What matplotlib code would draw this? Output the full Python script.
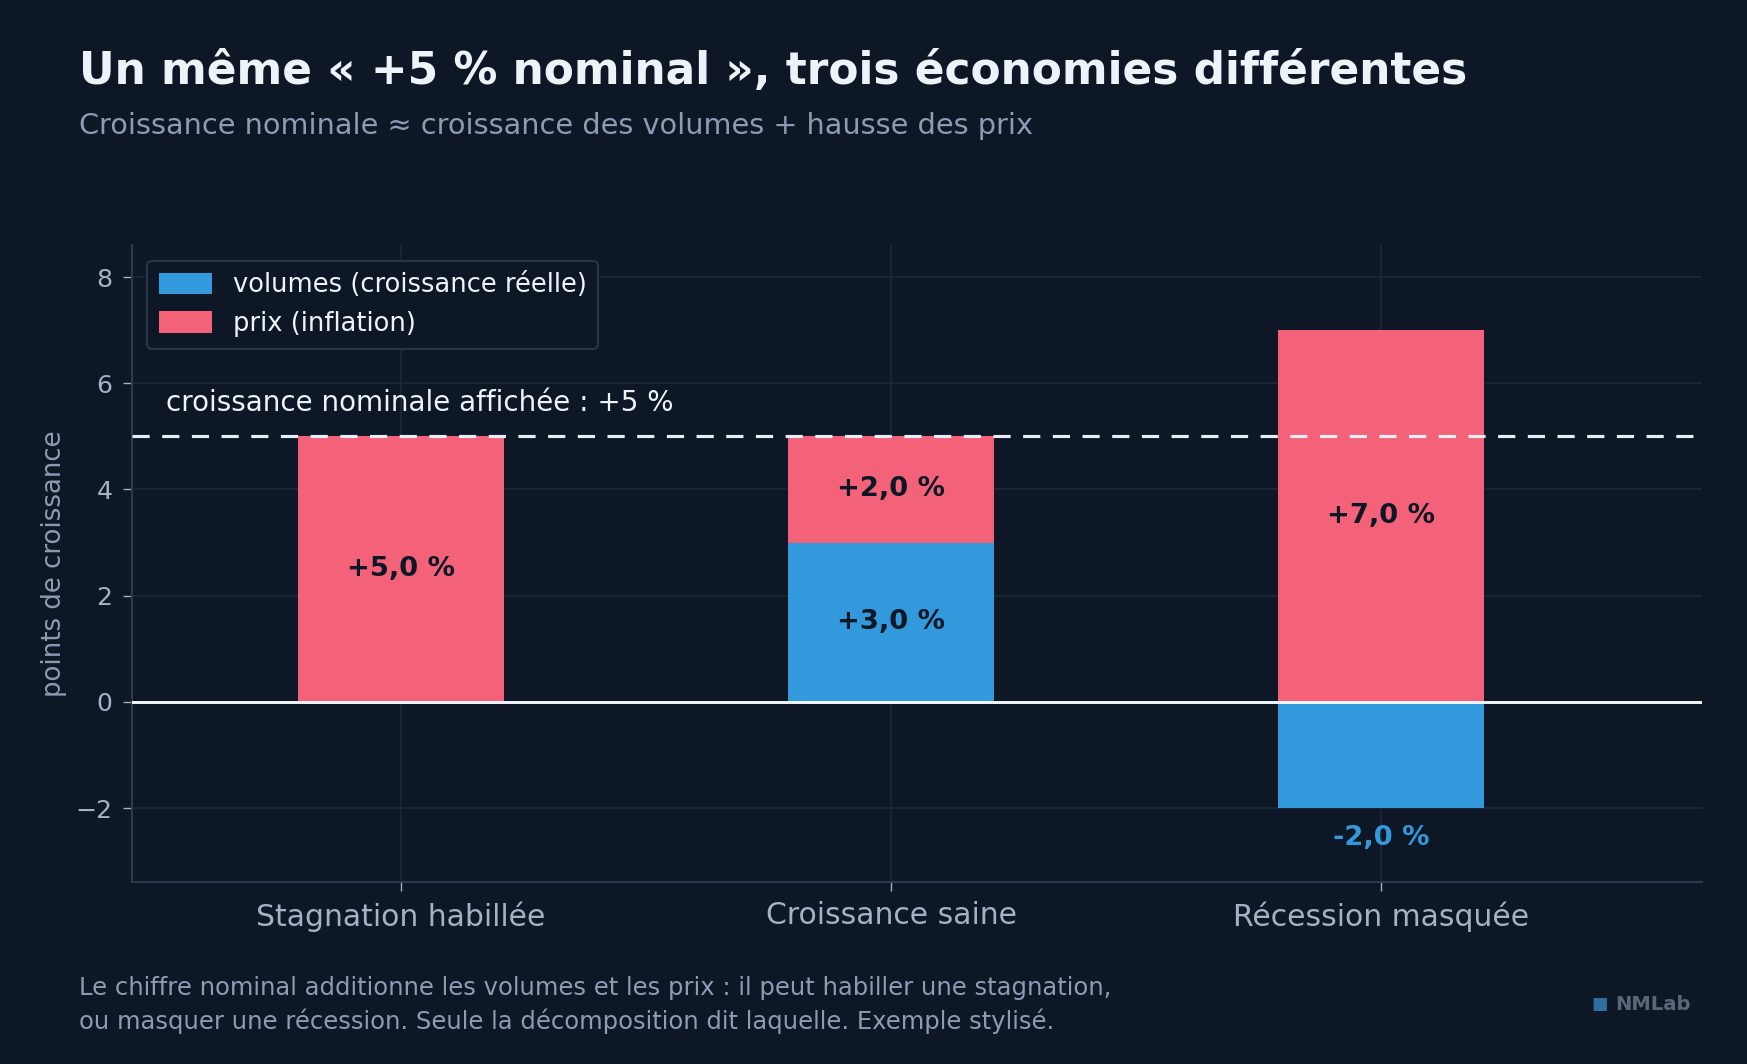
import matplotlib
matplotlib.use("Agg")
import matplotlib.pyplot as plt
import numpy as np

# donnees
categories = ["Stagnation habillée", "Croissance saine", "Récession masquée"]
volumes = [0.0, 3.0, -2.0]
prix = [5.0, 2.0, 7.0]
nominal = 5.0

BG = "#0d1726"
RED = "#f4627a"
BLUE = "#3399dd"
TXT = "#eef3fa"
MUTED = "#8e9bb3"
GRID = "#1c2738"

plt.rcParams["font.family"] = ["DejaVu Sans"]

fig = plt.figure(figsize=(1747 / 125, 1064 / 125), dpi=125, facecolor=BG)
ax = fig.add_axes([0.0753, 0.1707, 0.8992, 0.5989], facecolor=BG)

x = np.arange(len(categories))
w = 0.42

# volumes: positifs a partir de 0, negatifs vers le bas
ax.bar(x, volumes, width=w, color=BLUE, label="volumes (croissance réelle)", zorder=3)
# prix empiles au-dessus des volumes positifs
bottoms = [max(v, 0) for v in volumes]
ax.bar(x, prix, width=w, bottom=bottoms, color=RED, label="prix (inflation)", zorder=3)

ax.axhline(0, color="#f2f5fa", lw=1.7, zorder=4)
ax.axhline(nominal, color="#e6edf5", lw=1.8, ls=(0, (5.5, 4)), zorder=5)
ax.text(-0.48, nominal + 0.36, "croissance nominale affichée : +5 %",
        color=TXT, fontsize=16, va="bottom", ha="left")

# etiquettes des segments
for i in range(len(categories)):
    v = volumes[i]
    p = prix[i]
    b = bottoms[i]
    ax.text(x[i], b + p / 2, f"+{p:.1f} %".replace(".", ","), ha="center", va="center",
            fontsize=15.8, fontweight="bold", color=BG, zorder=6)
    if v > 0:
        ax.text(x[i], v / 2, f"+{v:.1f} %".replace(".", ","), ha="center", va="center",
                fontsize=15.8, fontweight="bold", color=BG, zorder=6)
    elif v < 0:
        ax.text(x[i], v - 0.57, f"{v:.1f} %".replace(".", ","), ha="center", va="center",
                fontsize=15.8, fontweight="bold", color=BLUE, zorder=6)

ax.set_xlim(-0.55, 2.655)
ax.set_ylim(-3.4, 8.6)
ax.set_xticks(x)
ax.set_xticklabels(categories, fontsize=17.2, color="#a5b1c4")
ax.set_yticks([-2, 0, 2, 4, 6, 8])
ax.tick_params(axis="y", labelsize=14.5, labelcolor="#a5b1c4", color="#a5b1c4", length=5, pad=6)
ax.tick_params(axis="x", color="#a5b1c4", length=5, pad=6)
ax.set_ylabel("points de croissance", color=MUTED, fontsize=15, labelpad=5)
ax.grid(True, color=GRID, lw=1, zorder=0)
for s in ["top", "right"]:
    ax.spines[s].set_visible(False)
for s in ["left", "bottom"]:
    ax.spines[s].set_color("#2e3a4d")
    ax.spines[s].set_linewidth(1.2)

leg = ax.legend(loc="upper left", fontsize=14.8, facecolor=BG, edgecolor="#2a3547",
                labelcolor=TXT, framealpha=1, borderpad=0.45, handlelength=2.1,
                handleheight=0.9, labelspacing=0.5, borderaxespad=0.6)
leg.get_frame().set_linewidth(1.2)

fig.text(0.0453, 0.921, "Un même « +5 % nominal », trois économies différentes",
         fontsize=25.3, fontweight="bold", color=TXT, va="baseline")
fig.text(0.0453, 0.874, "Croissance nominale ≈ croissance des volumes + hausse des prix",
         fontsize=16.6, color=MUTED, va="baseline")
fig.text(0.0453, 0.083,
         "Le chiffre nominal additionne les volumes et les prix : il peut habiller une stagnation,\n"
         "ou masquer une récession. Seule la décomposition dit laquelle. Exemple stylisé.",
         fontsize=14, color=MUTED, va="top", linespacing=1.45)
fig.text(0.968, 0.056, "NMLab", fontsize=11.3, fontweight="bold", color="#5b6678",
         ha="right", va="center")
fig.text(0.9158, 0.056, "■", fontsize=10, color="#2f6f9f", ha="center", va="center")

fig.savefig("out.png", dpi=125, facecolor=BG)
